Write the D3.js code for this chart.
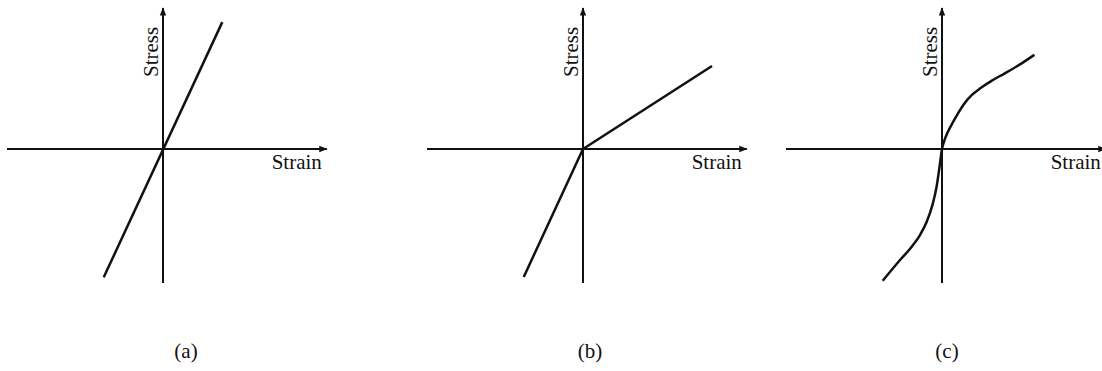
<!DOCTYPE html>
<html>
<head>
<meta charset="utf-8">
<script src="https://cdn.jsdelivr.net/npm/d3@7"></script>
<style>
  html, body { margin: 0; padding: 0; background: #fff; }
  svg { display: block; }
</style>
</head>
<body>
<svg id="chart" width="1102" height="371"></svg>
<script>
// Stress-strain relationships (normalised strain / stress units)
const panelLabels = ["(a)", "(b)", "(c)"];
const xAxisTitle = "Strain";
const yAxisTitle = "Stress";

// (a) linear elastic
const strainA = [-0.38, 0.38];
const stressA = [-0.91, 0.90];

// (b) bilinear: stiffer in compression, softer in tension
const strainB = [-0.38, 0, 0.827];
const stressB = [-0.908, 0, 0.589];

// (c) nonlinear, S-shaped
const strainC = [-0.380, -0.269, -0.194, -0.141, -0.098, -0.062, -0.035, -0.015, 0, 0.015, 0.035, 0.065, 0.100, 0.140, 0.190, 0.250, 0.320, 0.400, 0.500, 0.592];
const stressC = [-0.934, -0.787, -0.693, -0.610, -0.516, -0.400, -0.270, -0.120, 0, 0.060, 0.115, 0.180, 0.248, 0.318, 0.382, 0.434, 0.485, 0.535, 0.600, 0.668];

const curves = [
  { strain: strainA, stress: stressA, smooth: false },
  { strain: strainB, stress: stressB, smooth: false },
  { strain: strainC, stress: stressC, smooth: true }
];

const FONT = "'Liberation Serif', 'Times New Roman', 'DejaVu Serif', serif";
const svg = d3.select("#chart");

// panel frames: where each axis cross sits on the page
const panelOrigins = [163, 583, 942];
const originY = 149;
const pxPerStrain = 156, pxPerStress = 141;
const strainDomain = [-1.0, 1.05];
const stressDomain = [-0.95, 1.0];
const labelCenters = [186, 590, 947];

svg.append("defs").append("marker")
  .attr("id", "arrow")
  .attr("viewBox", "0 0 10 10")
  .attr("refX", 9).attr("refY", 5)
  .attr("markerWidth", 4.2).attr("markerHeight", 4.2)
  .attr("markerUnits", "strokeWidth")
  .attr("orient", "auto")
  .append("path")
  .attr("d", "M0,1.2 L10,5 L0,8.8 Z")
  .attr("fill", "#111");

curves.forEach((c, i) => {
  const ox = panelOrigins[i];
  const x = d3.scaleLinear()
    .domain(strainDomain)
    .range([ox + strainDomain[0] * pxPerStrain, ox + strainDomain[1] * pxPerStrain]);
  const y = d3.scaleLinear()
    .domain(stressDomain)
    .range([originY - stressDomain[0] * pxPerStress, originY - stressDomain[1] * pxPerStress]);

  const g = svg.append("g");

  // strain axis
  g.append("line")
    .attr("x1", x(strainDomain[0])).attr("x2", x(strainDomain[1]))
    .attr("y1", y(0)).attr("y2", y(0))
    .attr("stroke", "#111").attr("stroke-width", 2)
    .attr("marker-end", "url(#arrow)");

  // stress axis
  g.append("line")
    .attr("x1", x(0)).attr("x2", x(0))
    .attr("y1", y(stressDomain[0])).attr("y2", y(stressDomain[1]))
    .attr("stroke", "#111").attr("stroke-width", 2)
    .attr("marker-end", "url(#arrow)");

  // axis titles
  g.append("text")
    .attr("x", x(strainDomain[1]) - 5)
    .attr("y", y(0) + 20)
    .attr("text-anchor", "end")
    .attr("font-family", FONT)
    .attr("font-size", 21)
    .attr("fill", "#111")
    .text(xAxisTitle);

  g.append("text")
    .attr("transform", `translate(${x(0) - 5},${y(stressDomain[1]) + 69}) rotate(-90)`)
    .attr("text-anchor", "start")
    .attr("font-family", FONT)
    .attr("font-size", 21)
    .attr("fill", "#111")
    .text(yAxisTitle);

  // the stress-strain curve
  const pts = c.strain.map((s, k) => [s, c.stress[k]]);
  const line = d3.line()
    .x(d => x(d[0])).y(d => y(d[1]))
    .curve(c.smooth ? d3.curveMonotoneX : d3.curveLinear);
  g.append("path")
    .attr("d", line(pts))
    .attr("fill", "none")
    .attr("stroke", "#111")
    .attr("stroke-width", 2.5)
    .attr("stroke-linejoin", "round");

  // panel caption
  svg.append("text")
    .attr("x", labelCenters[i])
    .attr("y", 358)
    .attr("text-anchor", "middle")
    .attr("font-family", FONT)
    .attr("font-size", 21)
    .attr("fill", "#111")
    .text(panelLabels[i]);
});
</script>
</body>
</html>
